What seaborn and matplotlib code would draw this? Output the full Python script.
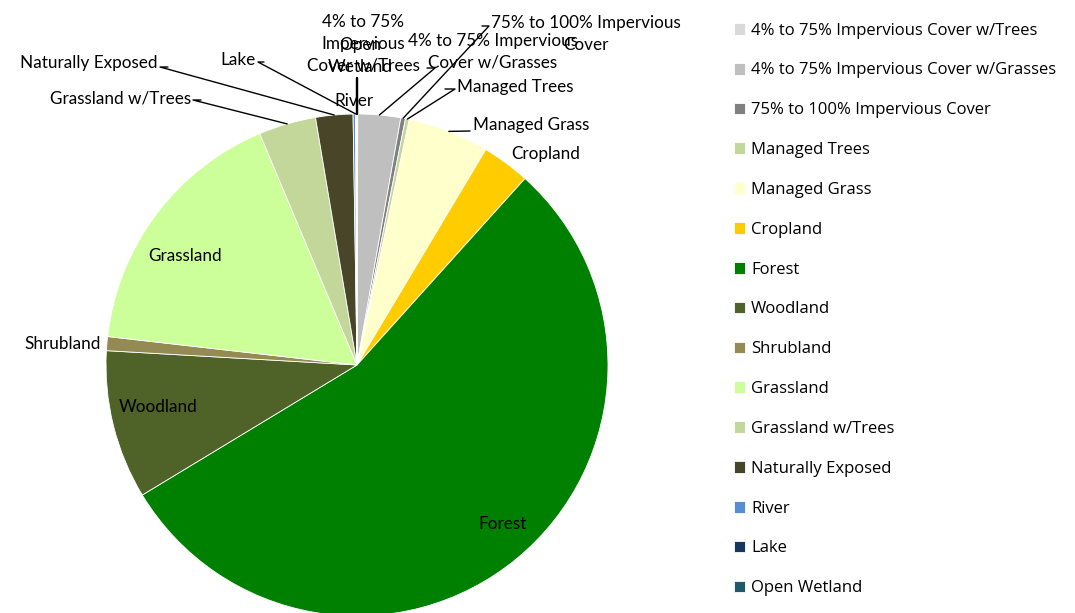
import matplotlib
matplotlib.use("Agg")
import matplotlib.pyplot as plt
import seaborn as sns
import numpy as np

categories = [
    "4% to 75% Impervious Cover w/Trees",
    "4% to 75% Impervious Cover w/Grasses",
    "75% to 100% Impervious Cover",
    "Managed Trees",
    "Managed Grass",
    "Cropland",
    "Forest",
    "Woodland",
    "Shrubland",
    "Grassland",
    "Grassland w/Trees",
    "Naturally Exposed",
    "River",
    "Lake",
    "Open Wetland",
]
values = [0.05, 2.75, 0.3, 0.25, 5.25, 3.1, 54.8, 9.6, 0.9, 16.9, 3.7, 2.4, 0.15, 0.05, 0.05]
colors = ["#D9D9D9", "#BFBFBF", "#808080", "#C4D79B", "#FFFFCC", "#FFCC00", "#008000",
          "#4F6228", "#948A54", "#CCFF99", "#C4D79B", "#494529", "#558ED5", "#17375E", "#215968"]
pie_labels = [
    "4% to 75%\nImpervious\nCover w/Trees",
    "4% to 75% Impervious\nCover w/Grasses",
    "75% to 100% Impervious\nCover",
    "Managed Trees",
    "Managed Grass",
    "Cropland",
    "Forest",
    "Woodland",
    "Shrubland",
    "Grassland",
    "Grassland w/Trees",
    "Naturally Exposed",
    "River",
    "Lake",
    "Open\nWetland",
]

sns.set_theme(style="white")
plt.rcParams['font.family'] = ['Lato', 'DejaVu Sans']

W, H = 1075, 613
fig = plt.figure(figsize=(W / 100, H / 100), dpi=100)
cx, cy, R = 357, 365, 251
ax = fig.add_axes([(cx - R) / W, (H - cy - R) / H, 2 * R / W, 2 * R / H])

wedges, _ = ax.pie(values, colors=colors, startangle=90, counterclock=False, radius=1,
                   wedgeprops=dict(edgecolor="white", linewidth=0.6))
ax.set_xlim(-1, 1)
ax.set_ylim(-1, 1)
ax.set_aspect("equal")
ax.axis("off")


def px(x, y):
    return ((x - cx) / R, (cy - y) / R)


def edge(i, r=1.0):
    w = wedges[i]
    a = np.deg2rad((w.theta1 + w.theta2) / 2)
    return r * np.cos(a), r * np.sin(a)


fs = 12.3
# label layout: (pixel x, pixel y, ha, leader points in pixels or None)
layout = [
    (363, 44, "center", "vert"),
    (493, 52, "center", [(435, 68), (427, 68)]),
    (586, 34, "center", [(489, 26), (482, 26)]),
    (457, 87, "left", [(455, 89), (445, 89)]),
    (473, 125, "left", [(470, 131)]),
    (511, 154, "left", None),
    (503, 524, "center", None),
    (158, 407, "center", None),
    (101, 344, "right", None),
    (185, 256, "center", None),
    (191, 98, "right", [(193, 100), (201, 100)]),
    (158, 63, "right", [(160, 67), (168, 67)]),
    (354, 101, "center", None),
    (256, 60, "right", [(258, 62), (264, 62)]),
    (360, 56, "center", "vert"),
]

for i, (lx, ly, ha, lead) in enumerate(layout):
    tx, ty = px(lx, ly)
    ax.text(tx, ty, pie_labels[i], ha=ha, va="center", fontsize=fs, color="black",
            linespacing=1.45, clip_on=False, zorder=5)
    ex, ey = edge(i)
    if lead == "vert":
        top = px(0, 78)[1]
        ax.plot([ex, ex], [ey, top], color="black", lw=1.6, clip_on=False, zorder=4)
    elif lead:
        pts = [px(a, b) for a, b in lead][::-1] + [(ex, ey)]
        ax.plot([p[0] for p in pts], [p[1] for p in pts], color="black", lw=1.0,
                clip_on=False, zorder=4)

leg = fig.legend(wedges, categories, loc="upper left", bbox_to_anchor=(727 / W, 1 - 16 / H),
                 frameon=False, handlelength=0.7, handleheight=0.7,
                 handletextpad=0.35, labelspacing=1.43, borderaxespad=0,
                 prop=dict(family=["Open Sans", "DejaVu Sans"], size=12))
for t in leg.get_texts():
    t.set_color("black")

fig.savefig("out.png", dpi=100)
